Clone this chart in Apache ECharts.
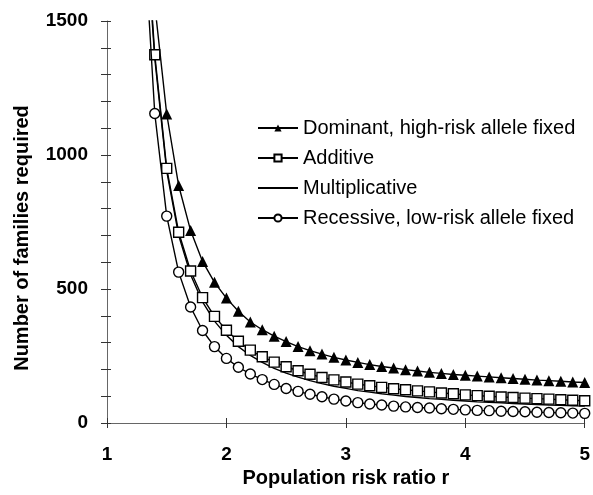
<!DOCTYPE html>
<html>
<head>
<meta charset="utf-8">
<script src="https://cdn.jsdelivr.net/npm/echarts@6/dist/echarts.min.js"></script>
<style>
  html, body { margin: 0; padding: 0; background: #fff; }
  #main { width: 593px; height: 495px; }
</style>
</head>
<body>
<div id="main"></div>
<script>
// population risk ratio r (markers every 0.1; 1.3 only carries the lines off the top)
const riskRatio = [1.3, 1.4, 1.5, 1.6, 1.7, 1.8, 1.9, 2.0, 2.1, 2.2, 2.3, 2.4, 2.5, 2.6, 2.7, 2.8, 2.9,
  3.0, 3.1, 3.2, 3.3, 3.4, 3.5, 3.6, 3.7, 3.8, 3.9, 4.0, 4.1, 4.2, 4.3, 4.4, 4.5, 4.6, 4.7, 4.8, 4.9, 5.0];

const dominant = [2300, 1560, 1153, 886, 718, 603, 525, 466, 417, 377, 348, 324, 304, 285, 270, 257, 245,
  235, 226, 218, 211, 205, 199, 194, 189, 185, 181, 178, 175, 172, 169, 166, 163, 160, 158, 156, 153, 151];
const additive = [2050, 1374, 950, 712, 567, 468, 398, 346, 305, 272, 247, 227, 210, 195, 182, 170, 161,
  153, 145, 139, 133, 128, 124, 120, 116, 112, 109, 105, 102, 100, 97, 95, 93, 91, 89, 87, 85, 83];
const multiplicative = [2000, 1360, 940, 700, 553, 452, 380, 327, 285, 252, 226, 204, 186, 171, 158, 147, 137,
  129, 121, 115, 109, 104, 99, 95, 91, 88, 85, 82, 79, 77, 75, 73, 71, 69, 67, 66, 64, 63];
const recessive = [1900, 1155, 772, 563, 433, 345, 285, 241, 208, 183, 162, 144, 129, 118, 107, 98, 89,
  82, 76, 71, 67, 63, 60, 58, 56, 53, 51, 49, 47, 46, 44, 43, 42, 40, 39, 38, 37, 36];

const seriesNames = [
  "Dominant, high-risk allele fixed",
  "Additive",
  "Multiplicative",
  "Recessive, low-risk allele fixed",
];

const xTicks = [1, 2, 3, 4, 5];
const yLabelEvery = 500;

const pairs = (vals) => riskRatio.map((r, i) => [r, vals[i]]);

const chart = echarts.init(document.getElementById("main"), null, { renderer: "canvas" });

const font = "'Liberation Sans', Arial, Helvetica, sans-serif";
const lineStyle = { color: "#000", width: 1.4 };
const tickStyle = { color: "#333", width: 1 };

chart.setOption({
  animation: false,
  textStyle: { fontFamily: font, color: "#000" },
  grid: { left: 107, right: 8, top: 21, bottom: 72 },
  legend: {
    data: [
      seriesNames[0],
      seriesNames[1],
      { name: seriesNames[2], itemStyle: { opacity: 0 } },
      seriesNames[3],
    ],
    orient: "vertical",
    left: 252,
    top: 113,
    itemWidth: 40,
    itemHeight: 9,
    itemGap: 10,
    textStyle: { fontFamily: font, fontSize: 20, color: "#000" },
  },
  xAxis: [
    {
      type: "value",
      position: "bottom",
      min: xTicks[0],
      max: xTicks[xTicks.length - 1],
      interval: 1,
      name: "Population risk ratio r",
      nameLocation: "middle",
      nameGap: 44,
      nameTextStyle: { fontFamily: font, fontSize: 20, fontWeight: "bold", color: "#000" },
      axisLine: { show: true, lineStyle: { color: "#666", width: 1 } },
      axisTick: { show: true, inside: false, length: 5, lineStyle: tickStyle },
      axisLabel: { margin: 22, fontSize: 19, fontWeight: "bold", color: "#000", fontFamily: font },
      splitLine: { show: false },
    },
    {
      // upper half of the crossing ticks
      type: "value",
      position: "bottom",
      offset: -5,
      min: xTicks[0],
      max: xTicks[xTicks.length - 1],
      interval: 1,
      axisLine: { show: false },
      axisTick: { show: true, inside: false, length: 5, lineStyle: tickStyle },
      axisLabel: { show: false },
      splitLine: { show: false },
    },
  ],
  yAxis: [
    {
      type: "value",
      position: "left",
      min: 0,
      max: 1500,
      interval: 100,
      name: "Number of families required",
      nameLocation: "middle",
      nameGap: 75,
      nameTextStyle: {
        fontFamily: font, fontSize: 20, fontWeight: "bold", color: "#000",
        padding: [0, 32, 0, 0],
      },
      axisLine: { show: true, lineStyle: { color: "#666", width: 1 } },
      axisTick: { show: true, inside: false, length: 6, lineStyle: tickStyle },
      axisLabel: {
        margin: 19,
        fontSize: 19,
        fontWeight: "bold",
        color: "#000",
        fontFamily: font,
        formatter: (v) => (v % yLabelEvery === 0 ? String(v) : ""),
      },
      splitLine: { show: false },
    },
    {
      // right half of the crossing ticks
      type: "value",
      position: "left",
      offset: -4,
      min: 0,
      max: 1500,
      interval: 100,
      axisLine: { show: false },
      axisTick: { show: true, inside: false, length: 4, lineStyle: tickStyle },
      axisLabel: { show: false },
      splitLine: { show: false },
    },
  ],
  series: [
    {
      name: seriesNames[2],
      type: "line",
      data: pairs(multiplicative),
      symbol: "none",
      lineStyle: lineStyle,
      itemStyle: { color: "#000" },
      clip: true,
      z: 1,
    },
    {
      name: seriesNames[0],
      type: "line",
      data: pairs(dominant),
      symbol: "triangle",
      symbolSize: 11,
      lineStyle: lineStyle,
      itemStyle: { color: "#000" },
      clip: true,
      z: 2,
    },
    {
      name: seriesNames[1],
      type: "line",
      data: pairs(additive),
      symbol: "rect",
      symbolSize: 10,
      lineStyle: lineStyle,
      itemStyle: { color: "#fff", borderColor: "#000", borderWidth: 1.4 },
      clip: true,
      z: 3,
    },
    {
      name: seriesNames[3],
      type: "line",
      data: pairs(recessive),
      symbol: "circle",
      symbolSize: 10,
      lineStyle: lineStyle,
      itemStyle: { color: "#fff", borderColor: "#000", borderWidth: 1.4 },
      clip: true,
      z: 4,
    },
  ],
});
</script>
</body>
</html>
